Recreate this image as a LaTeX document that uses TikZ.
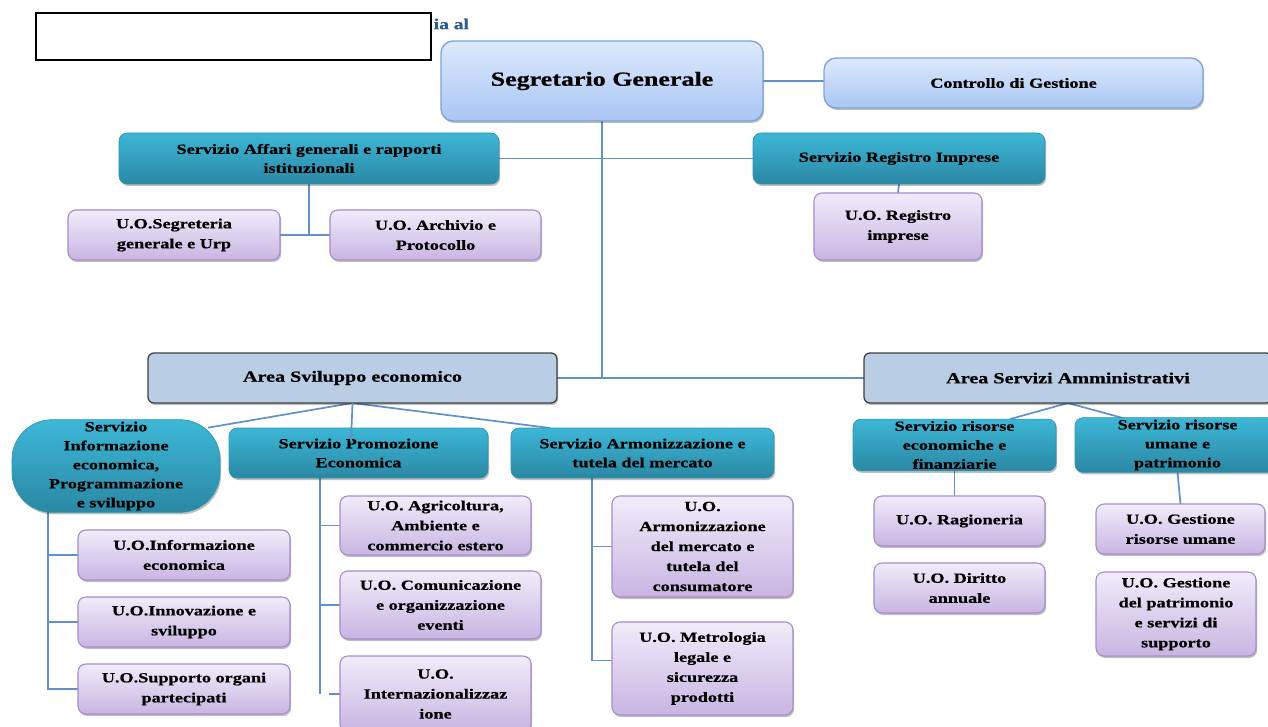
\documentclass[tikz,border=0pt]{standalone}
\usepackage{fontspec}
\setmainfont[FakeStretch=1.3,FakeBold=0.6]{Liberation Serif}
\usetikzlibrary{shadows,backgrounds}
\definecolor{sgT}{HTML}{DDE9FC}
\definecolor{sgBot}{HTML}{A9C6F4}
\definecolor{sgB}{HTML}{7FA2D6}
\definecolor{tealT}{HTML}{3DB7D7}
\definecolor{tealBot}{HTML}{2A88A4}
\definecolor{tealB}{HTML}{2E93B0}
\definecolor{purT}{HTML}{F1ECFA}
\definecolor{purBot}{HTML}{C8B5E2}
\definecolor{purB}{HTML}{A48DCB}
\definecolor{areaC}{HTML}{B9CDE5}
\definecolor{areaB}{HTML}{404040}
\definecolor{lineC}{HTML}{6290C9}
\definecolor{titleC}{HTML}{2B5A8C}
\newcommand\bx[7]{\node[#1, minimum width={(#5-#3)*1pt}, minimum height={(#6-#4)*1pt}] (#2) at ({(#3+#5)/2},{(#4+#6)/2}) {#7};}
\begin{document}
\begin{tikzpicture}[x=1pt,y=-1pt,
  every node/.style={inner sep=2pt, outer sep=0pt, align=center},
  shd/.style={drop shadow={shadow xshift=1.2pt, shadow yshift=-2pt, opacity=0.25, fill=black}},
  sgbox/.style={shd, draw=sgB, line width=1.3pt, rounded corners=12pt, top color=sgT, bottom color=sgBot, font=\fontsize{20}{24}\selectfont\bfseries},
  servbox/.style={shd, draw=tealB, line width=0.6pt, rounded corners=8pt, top color=tealT, bottom color=tealBot, font=\fontsize{14}{19}\selectfont\bfseries},
  uobox/.style={shd, draw=purB, line width=1.1pt, rounded corners=8pt, top color=purT, bottom color=purBot, font=\fontsize{14}{20}\selectfont\bfseries},
  areabox/.style={shd, draw=areaB, line width=1.3pt, fill=areaC, rounded corners=6pt, font=\fontsize{15.5}{19}\selectfont\bfseries},
  conn/.style={draw=lineC, line width=1.7pt}]
\useasboundingbox (0,0) rectangle (1268,727);
\clip (0,0) rectangle (1268,727);
% title remnant
\node[anchor=east, text=titleC, font=\fontsize{15}{18}\selectfont\bfseries] (title) at (471,24) {ia al};
\node[draw=black, fill=white, line width=1.6pt, minimum width=395pt, minimum height=47pt, anchor=north west, inner sep=0pt] (mask) at (36,13) {};

% top nodes
\bx{sgbox}{SG}{441}{41}{763}{121}{Segretario Generale}
\bx{sgbox,font=\fontsize{14}{18}\selectfont\bfseries}{CG}{824}{58}{1203}{108}{Controllo di Gestione}
\bx{servbox}{SA}{119}{133}{499}{184}{Servizio Affari generali e rapporti\\istituzionali}
\bx{servbox}{SR}{753}{133}{1045}{184}{Servizio Registro Imprese}
\bx{uobox}{UR}{814}{193}{982}{260}{U.O. Registro\\imprese}
\bx{uobox}{USeg}{68}{210}{280}{260}{U.O.Segreteria\\generale e Urp}
\bx{uobox}{UArc}{330}{210}{541}{260}{U.O. Archivio e\\Protocollo}

% areas
\bx{areabox}{AS}{148}{353}{557}{403}{Area Sviluppo economico}
\bx{areabox}{AA}{864}{353}{1272}{403}{Area Servizi Amministrativi}

% servizi of area sviluppo
\bx{servbox,rounded corners=40pt}{SI}{12}{420}{220}{512}{Servizio\\Informazione\\economica,\\Programmazione\\e sviluppo}
\bx{servbox}{SP}{229}{428}{488}{478}{Servizio Promozione\\Economica}
\draw[conn] (AS.south) -- ([xshift=-7.5pt,yshift=-13pt]SP.north);
\bx{servbox}{SAr}{511}{428}{774}{478}{Servizio Armonizzazione e\\tutela del mercato}

\bx{uobox}{U1}{78}{530}{290}{580}{U.O.Informazione\\economica}
\bx{uobox}{U2}{78}{597}{290}{647}{U.O.Innovazione e\\sviluppo}
\bx{uobox}{U3}{78}{664}{290}{714}{U.O.Supporto organi\\partecipati}

\bx{uobox}{P1}{340}{496}{531}{555}{U.O. Agricoltura,\\Ambiente e\\commercio estero}
\bx{uobox}{P2}{340}{571}{541}{639}{U.O. Comunicazione\\e organizzazione\\eventi}
\bx{uobox}{P3}{340}{656}{531}{732}{U.O.\\Internazionalizzaz\\ione}

\bx{uobox}{A1}{612}{496}{793}{597}{U.O.\\Armonizzazione\\del mercato e\\tutela del\\consumatore}
\bx{uobox}{A2}{612}{622}{793}{715}{U.O. Metrologia\\legale e\\sicurezza\\prodotti}

% servizi of area amministrativa
\bx{servbox}{SRE}{853}{420}{1056}{470}{Servizio risorse\\economiche e\\finanziarie}
\bx{servbox}{SRU}{1075}{420}{1280}{470}{Servizio risorse\\umane e\\patrimonio}
\bx{uobox}{R1}{874}{496}{1045}{546}{U.O. Ragioneria}
\bx{uobox}{R2}{874}{563}{1045}{613}{U.O. Diritto\\annuale}
\bx{uobox}{G1}{1096}{504}{1265}{554}{U.O. Gestione\\risorse umane}
\bx{uobox}{G2}{1096}{572}{1256}{656}{U.O. Gestione\\del patrimonio\\e servizi di\\supporto}

% connectors (behind nodes)
\begin{pgfonlayer}{background}
\fill[white] (0,0) rectangle (1268,727);
\draw[conn] (SG.east) -- (SG.east -| CG.west);
\draw[conn] (SG.south) -- (SG.south |- AS.east);
\draw[conn] (AS.east) -- (AA.west);
\draw[conn] (SA.east) -- (SR.west);
\draw[conn] (SA.south) -- (SA.south |- USeg.east);
\draw[conn] (USeg.east) -- (UArc.west);
\draw[conn] (SR.south) -- (UR.north);
\draw[conn] (AS.south) -- ([xshift=-12pt,yshift=-8pt]SI.north east);
\draw[conn] (AS.south) -- ([xshift=-92.5pt]SAr.north);
\coordinate (siB) at ([xshift=-68pt]SI.south);
\draw[conn] (siB) |- (U1.west);
\draw[conn] (siB) |- (U2.west);
\draw[conn] (siB) |- (U3.west);
\coordinate (spB) at ([xshift=-38.5pt]SP.south);
\draw[conn] (spB) |- (P1.west);
\draw[conn] (spB) |- (P2.west);
\draw[conn] (spB) -- (spB |- P3.west);
\draw[conn] ([xshift=-11pt]P3.west) -- (P3.west);
\coordinate (arB) at ([xshift=-50.5pt]SAr.south);
\draw[conn] (arB) |- (A1.west);
\draw[conn] (arB) |- ([yshift=8pt]A2.west);
\draw[conn] (AA.south) -- ([xshift=55.5pt]SRE.north);
\draw[conn] (AA.south) -- ([xshift=-45pt,yshift=-3pt]SRU.north);
\draw[conn] (SRE.south) -- (SRE.south |- R1.north);
\draw[conn] (SRU.south) -- (G1.north);
\end{pgfonlayer}
\end{tikzpicture}
\end{document}
